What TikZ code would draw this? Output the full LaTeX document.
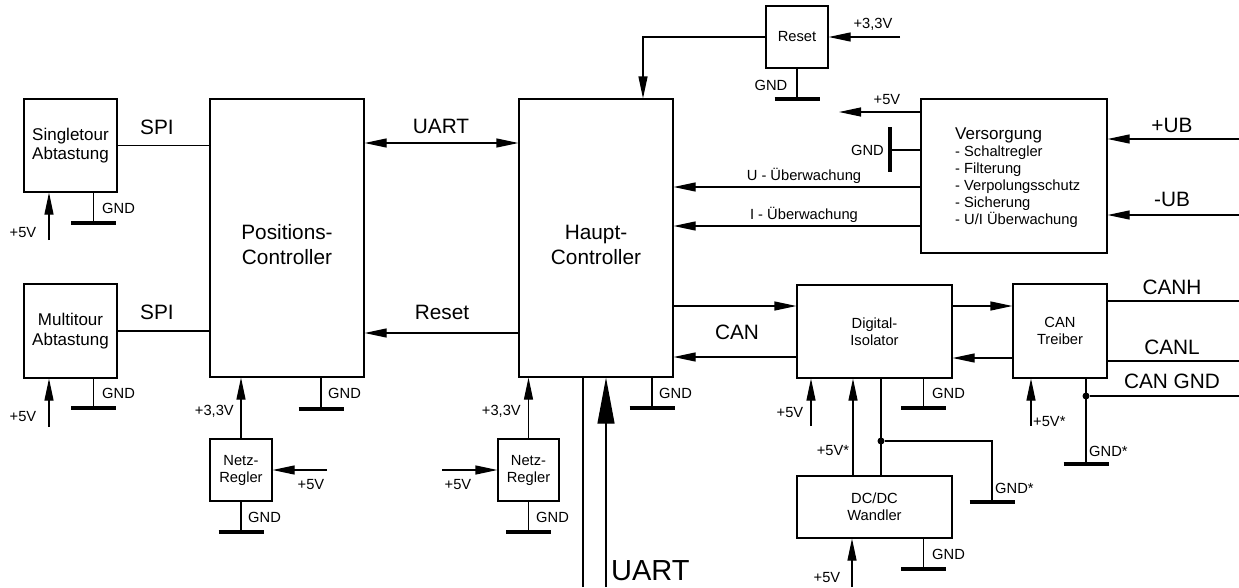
\documentclass[tikz,border=0pt]{standalone}
\usepackage{fontspec}
\setmainfont{Liberation Sans}
\usetikzlibrary{arrows.meta}
\newcommand{\fsm}{\fontsize{14.7}{17}\selectfont}
\newcommand{\fmd}{\fontsize{17}{19.5}\selectfont}
\newcommand{\fbg}{\fontsize{20.8}{25}\selectfont}
\newcommand{\fhg}{\fontsize{29}{34}\selectfont}
\newcommand{\gndbar}[1]{\draw[bar] ([xshift=-22.5pt]#1) -- ([xshift=22.5pt]#1);}
\begin{document}
\begin{tikzpicture}[x=1pt,y=-1pt,
 box/.style={draw, line width=1.2pt, inner sep=0pt, align=center, font=\fsm},
 wire/.style={line width=1.2pt},
 arr/.style={wire, -{Triangle[length=22pt,width=9pt]}},
 dbl/.style={wire, {Triangle[length=22pt,width=9pt]}-{Triangle[length=22pt,width=9pt]}},
 bigarr/.style={wire, -{Triangle[length=46pt,width=17pt]}},
 bar/.style={line width=3.5pt},
 sm/.style={font=\fsm, inner sep=0pt},
 bg/.style={font=\fbg, inner sep=0pt, align=center},
 dot/.style={circle, fill, inner sep=0pt, minimum size=7pt}
]
\useasboundingbox (0,0) rectangle (1239,587);

% boxes
\node[box, font=\fmd, minimum width=93pt, minimum height=93pt] (single) at (70.5,145.5) {Singletour\\Abtastung};
\node[box, font=\fmd, minimum width=93pt, minimum height=94pt] (multi) at (70.5,331) {Multitour\\Abtastung};
\node[box, minimum width=154pt, minimum height=278pt] (pos) at (287,238) {};
\node[box, minimum width=154pt, minimum height=278pt] (haupt) at (596,238) {};
\node[bg] (postxt) at (287,245) {Positions-\\Controller};
\node[bg] (haupttxt) at (596,245) {Haupt-\\Controller};
\node[box, minimum width=62pt, minimum height=62pt] (netz1) at (241,470) {Netz-\\Regler};
\node[box, minimum width=61pt, minimum height=62pt] (netz2) at (528.5,470) {Netz-\\Regler};
\node[box, minimum width=62pt, minimum height=62pt] (reset) at (797,37) {Reset};
\node[box, minimum width=186pt, minimum height=154pt] (vers) at (1014,176) {};
\node[align=left, anchor=north west, inner sep=0pt, font=\fsm] (verstxt) at (955,128)
  {{\fmd Versorgung}\\- Schaltregler\\- Filterung\\- Verpolungsschutz\\- Sicherung\\- U/I \"Uberwachung};
\node[box, minimum width=155pt, minimum height=93pt] (iso) at (874.5,331.5) {Digital-\\Isolator};
\node[box, minimum width=94pt, minimum height=94pt] (treib) at (1060,331) {CAN\\Treiber};
\node[box, minimum width=155pt, minimum height=62pt] (dcdc) at (874.5,507) {DC/DC\\Wandler};

% Singletour
\draw[wire] (single.east) -- (single.east -| pos.west);
\node[bg] (spi1) at (157,127) {SPI};
\coordinate (s5) at (49,240);
\draw[arr] (s5) -- (s5 |- single.south);
\node[sm] (s5l) at (23,233) {+5V};
\coordinate (sg) at (93.5,223);
\draw[wire] (sg |- single.south) -- (sg); \gndbar{sg}
\node[sm, anchor=west] (sgl) at (102,208) {GND};

% Multitour
\draw[wire] (multi.east) -- (multi.east -| pos.west);
\node[bg] (spi2) at (157,312) {SPI};
\coordinate (m5) at (49,427);
\draw[arr] (m5) -- (m5 |- multi.south);
\node[sm] (m5l) at (23,417) {+5V};
\coordinate (mg) at (93.5,408);
\draw[wire] (mg |- multi.south) -- (mg); \gndbar{mg}
\node[sm, anchor=west] (mgl) at (102,393) {GND};

% Positions <-> Haupt
\draw[dbl] (pos.east |- 0,143) -- (haupt.west |- 0,143);
\node[bg] (uartl) at (441,126) {UART};
\draw[arr] (haupt.west |- 0,333) -- (pos.east |- 0,333);
\node[bg] (resetl) at (442,312) {Reset};

% Positions GND and Netz1
\coordinate (pg) at (321,409);
\draw[wire] (pg |- pos.south) -- (pg); \gndbar{pg}
\node[sm, anchor=west] (pgl) at (328,393) {GND};
\draw[arr] (netz1.north) -- (netz1.north |- pos.south);
\node[sm, anchor=east] (n133) at (234,411) {+3,3V};
\coordinate (n15) at (327,470);
\draw[arr] (n15) -- (netz1.east);
\node[sm] (n15l) at (311,485) {+5V};
\coordinate (n1g) at (241,532);
\draw[wire] (netz1.south) -- (n1g); \gndbar{n1g}
\node[sm, anchor=west] (n1gl) at (248,517) {GND};

% Haupt bottom
\draw[arr] (netz2.north) -- (netz2.north |- haupt.south);
\node[sm, anchor=east] (n233) at (521,411) {+3,3V};
\coordinate (n25) at (442,470);
\draw[arr] (n25) -- (netz2.west);
\node[sm] (n25l) at (458,485) {+5V};
\coordinate (n2g) at (528.5,532);
\draw[wire] (netz2.south) -- (n2g); \gndbar{n2g}
\node[sm, anchor=west] (n2gl) at (536,517) {GND};
\coordinate (hg) at (652,408);
\draw[wire] (hg |- haupt.south) -- (hg); \gndbar{hg}
\node[sm, anchor=west] (hgl) at (659,393) {GND};
\coordinate (u1) at (583,587);
\coordinate (u2) at (606,587);
\draw[wire] (u1) -- (u1 |- haupt.south);
\draw[bigarr] (u2) -- (u2 |- haupt.south);
\node[font=\fhg, inner sep=0pt, anchor=west] (uart2) at (611,571) {UART};

% Reset block
\coordinate (rc) at (643,37);
\draw[arr] (reset.west) -- (rc) -- (rc |- haupt.north);
\coordinate (r33) at (900,37);
\draw[arr] (r33) -- (reset.east);
\node[sm] (r33l) at (873,24) {+3,3V};
\coordinate (rg) at (797,99);
\draw[wire] (reset.south) -- (rg); \gndbar{rg}
\node[sm] (rgl) at (771,85) {GND};

% Versorgung
\coordinate (v5) at (839,112);
\draw[arr] (vers.west |- v5) -- (v5);
\node[sm] (v5l) at (887,100) {+5V};
\coordinate (vg) at (890,150);
\draw[wire] (vers.west |- vg) -- (vg);
\draw[bar] (890,127) -- (890,172);
\node[sm, anchor=east] (vgl) at (884,150) {GND};
\draw[arr] (vers.west |- 0,187) -- (haupt.east |- 0,187);
\node[sm] (uue) at (804,176) {U - \"Uberwachung};
\draw[arr] (vers.west |- 0,226) -- (haupt.east |- 0,226);
\node[sm] (iue) at (804,215) {I - \"Uberwachung};
\coordinate (ubp) at (1239,139);
\draw[arr] (ubp) -- (ubp -| vers.east);
\node[bg] (ubpl) at (1172,125) {+UB};
\coordinate (ubm) at (1239,215);
\draw[arr] (ubm) -- (ubm -| vers.east);
\node[bg] (ubml) at (1172,199) {-UB};

% CAN path
\draw[arr] (haupt.east |- 0,306) -- (iso.west |- 0,306);
\draw[arr] (iso.west |- 0,357) -- (haupt.east |- 0,357);
\node[bg] (canl) at (737,332) {CAN};
\draw[arr] (iso.east |- 0,306) -- (treib.west |- 0,306);
\draw[arr] (treib.west |- 0,358) -- (iso.east |- 0,358);

% Isolator bottom
\coordinate (i5) at (811,426);
\draw[arr] (i5) -- (i5 |- iso.south);
\node[sm] (i5l) at (790,413) {+5V};
\draw[arr] (dcdc.north -| 853,0) -- (iso.south -| 853,0);
\node[sm] (i5sl) at (833,451) {+5V*};
\node[dot] (d1) at (881,441) {};
\draw[wire] (iso.south -| d1) -- (dcdc.north -| d1);
\coordinate (dg1) at (992,502);
\draw[wire] (d1) -- (d1 -| dg1) -- (dg1); \gndbar{dg1}
\node[sm, anchor=west] (dg1l) at (995,488) {GND*};
\coordinate (ig) at (923.5,408);
\draw[wire] (ig |- iso.south) -- (ig); \gndbar{ig}
\node[sm, anchor=west] (igl) at (932,393) {GND};

% DC/DC
\coordinate (d5) at (852,587);
\draw[arr] (d5) -- (d5 |- dcdc.south);
\node[sm] (d5l) at (827,578) {+5V};
\coordinate (dg) at (923.5,569);
\draw[wire] (dg |- dcdc.south) -- (dg); \gndbar{dg}
\node[sm, anchor=west] (dgl) at (932,554) {GND};

% Treiber
\coordinate (ch) at (1239,301);
\draw[wire] (treib.east |- ch) -- (ch);
\node[bg] (chl) at (1172,287) {CANH};
\coordinate (cl) at (1239,361);
\draw[wire] (treib.east |- cl) -- (cl);
\node[bg] (cll) at (1172,347) {CANL};
\node[dot] (d2) at (1086,396) {};
\coordinate (cg) at (1239,396);
\draw[wire] (d2) -- (cg);
\node[bg] (cgl) at (1172,381) {CAN GND};
\coordinate (tg) at (1086,464);
\draw[wire] (treib.south -| d2) -- (tg); \gndbar{tg}
\node[sm, anchor=west] (tgl) at (1089,451) {GND*};
\coordinate (t5) at (1031,426);
\draw[arr] (t5) -- (t5 |- treib.south);
\node[sm, anchor=west] (t5l) at (1033,422) {+5V*};
\end{tikzpicture}
\end{document}
